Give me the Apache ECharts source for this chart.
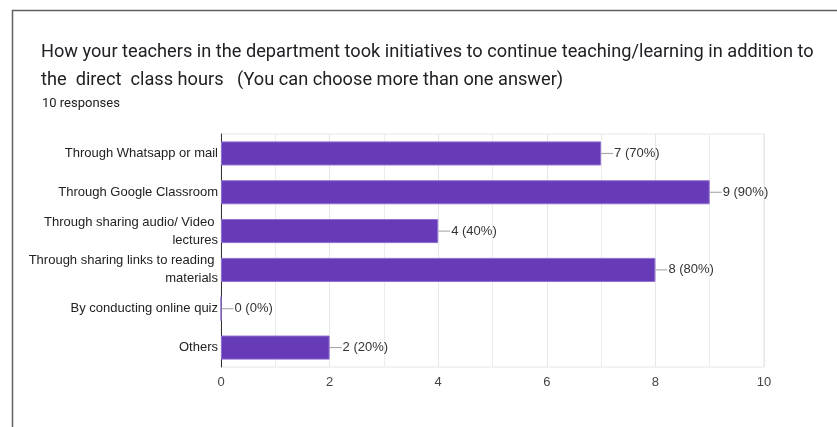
<!DOCTYPE html>
<html>
<head>
<meta charset="utf-8">
<script src="https://cdn.jsdelivr.net/npm/echarts@6/dist/echarts.min.js"></script>
<style>html,body{margin:0;padding:0;background:#fff}#c{width:837px;height:427px}</style>
</head>
<body>
<div id="c"></div>
<script>
const titleLines = ['How your teachers in the department took initiatives to continue teaching/learning in addition to', 'the  direct  class hours   (You can choose more than one answer)'];
const responsesText = '10 responses';
const totalResponses = 10;
const categories = ['Through Whatsapp or mail', 'Through Google Classroom', 'Through sharing audio/ Video lectures', 'Through sharing links to reading materials', 'By conducting online quiz', 'Others'];
const counts = [7, 9, 4, 8, 0, 2];
const xTicks = [0, 2, 4, 6, 8, 10];

const chart = echarts.init(document.getElementById('c'));
chart.setOption({
  animation: false,
  backgroundColor: '#fff',
  title: [
    { text: titleLines.join('\n'), left: 36, top: 33,
      textStyle: { fontFamily: 'Roboto', fontSize: 18.2, fontWeight: 'normal', color: '#202124', lineHeight: 28 } },
    { text: responsesText, left: 37, top: 92,
      textStyle: { fontFamily: 'Roboto', fontSize: 13, fontWeight: 'normal', color: '#202124', lineHeight: 14 } }
  ],
  graphic: [
    { type: 'rect', shape: { x: 12.5, y: 10.5, width: 900, height: 600 }, style: { fill: 'none', stroke: '#5f5f5f', lineWidth: 1.5 }, silent: true }
  ],
  grid: { left: 221, right: 73, top: 134, bottom: 60, show: true, borderColor: '#e6e6e6', borderWidth: 1 },
  xAxis: {
    type: 'value', min: xTicks[0], max: xTicks[xTicks.length - 1], interval: 2,
    axisLine: { show: false }, axisTick: { show: false },
    axisLabel: { color: '#444', fontFamily: 'Arial', fontSize: 13, margin: 9 },
    splitLine: { show: true, lineStyle: { color: '#e6e6e6' } },
    minorTick: { show: false, splitNumber: 2 },
    minorSplitLine: { show: true, lineStyle: { color: '#ececec' } }
  },
  yAxis: {
    type: 'category', data: categories, inverse: true,
    axisLine: { show: true, lineStyle: { color: '#333', width: 1 } },
    axisTick: { show: false },
    axisLabel: { color: '#222', fontFamily: 'Arial', fontSize: 13, margin: 3, width: 210, overflow: 'break', lineHeight: 18, align: 'right' }
  },
  series: [{
    type: 'bar', data: counts, barCategoryGap: '38%',
    itemStyle: { color: '#673ab7', borderColor: '#8f6fd0', borderWidth: 1 },
    label: {
      show: true, position: 'right', distance: 0,
      formatter: p => '{l| }{t|' + p.value + ' (' + Math.round(p.value / totalResponses * 100) + '%)}',
      rich: {
        l: { width: 12, height: 1, backgroundColor: '#9e9e9e', fontSize: 1 },
        t: { color: '#333', fontFamily: 'Arial', fontSize: 13, padding: [0, 0, 0, 1] }
      }
    }
  }]
});
</script>
</body>
</html>
